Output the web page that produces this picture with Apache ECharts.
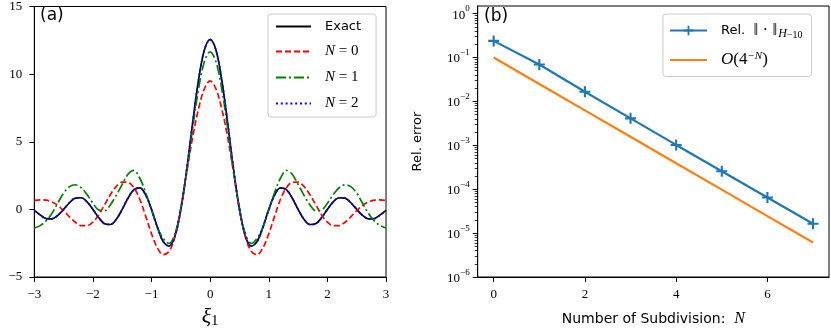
<!DOCTYPE html>
<html><head><meta charset="utf-8">
<script src="https://cdn.jsdelivr.net/npm/echarts@6/dist/echarts.min.js"></script>
<style>html,body{margin:0;padding:0;background:#fff}#c{width:831px;height:335px}</style>
</head><body><div id="c"></div>
<script>
// ---------- data: panel (a) ----------
const xi = [-3.0,-2.9,-2.8,-2.7,-2.6,-2.5,-2.4,-2.3,-2.2,-2.1,-2.0,-1.9,-1.8,-1.7,-1.6,-1.5,-1.4,-1.3,-1.2,-1.1,-1.0,-0.9,-0.8,-0.7,-0.6,-0.5,-0.4,-0.3,-0.2,-0.1,
  0.0,0.1,0.2,0.3,0.4,0.5,0.6,0.7,0.8,0.9,1.0,1.1,1.2,1.3,1.4,1.5,1.6,1.7,1.8,1.9,2.0,2.1,2.2,2.3,2.4,2.5,2.6,2.7,2.8,2.9,3.0];
const exact = [-0.08,-0.41,-0.68,-0.70,-0.45,0.00,0.49,0.83,0.86,0.56,0.00,-0.62,-1.06,-1.12,-0.73,0.00,0.84,1.46,1.59,1.07,0.00,-1.31,-2.38,-2.72,-1.96,0.00,2.94,6.34,9.51,11.76,
  12.57,11.76,9.51,6.34,2.94,0.00,-1.96,-2.72,-2.38,-1.31,0.00,1.07,1.59,1.46,0.84,0.00,-0.73,-1.12,-1.06,-0.62,0.00,0.56,0.86,0.83,0.49,0.00,-0.45,-0.70,-0.68,-0.41,-0.08];
const n0 = [0.66,0.70,0.68,0.55,0.30,-0.10,-0.55,-0.95,-1.20,-1.20,-0.95,-0.40,0.35,1.10,1.70,2.02,2.00,1.60,0.75,-0.50,-1.80,-2.85,-3.35,-3.10,-2.00,0.10,2.70,5.30,7.40,8.90,
  9.50,8.90,7.40,5.30,2.70,0.10,-2.00,-3.10,-3.35,-2.85,-1.80,-0.50,0.75,1.60,2.00,2.02,1.70,1.10,0.35,-0.40,-0.95,-1.20,-1.20,-0.95,-0.55,-0.10,0.30,0.55,0.68,0.70,0.66];
const n1 = [-1.38,-1.20,-0.85,-0.30,0.45,1.20,1.68,1.82,1.60,1.10,0.45,-0.05,-0.10,0.35,1.05,1.85,2.60,2.88,2.30,1.25,-0.05,-1.35,-2.15,-2.52,-1.80,0.05,2.80,5.95,8.85,10.90,
  11.65,10.90,8.85,5.95,2.80,0.05,-1.80,-2.52,-2.15,-1.35,-0.05,1.25,2.30,2.88,2.60,1.85,1.05,0.35,-0.10,-0.05,0.45,1.10,1.60,1.82,1.68,1.20,0.45,-0.30,-0.85,-1.20,-1.38];
const n2 = [-0.10,-0.42,-0.69,-0.70,-0.44,0.01,0.50,0.84,0.86,0.55,-0.01,-0.63,-1.07,-1.12,-0.72,0.01,0.85,1.46,1.58,1.06,-0.01,-1.32,-2.39,-2.71,-1.95,0.01,2.95,6.35,9.52,11.75,
  12.55,11.75,9.52,6.35,2.95,0.01,-1.95,-2.71,-2.39,-1.32,-0.01,1.06,1.58,1.46,0.85,0.01,-0.72,-1.12,-1.07,-0.63,-0.01,0.55,0.86,0.84,0.50,0.01,-0.44,-0.70,-0.69,-0.42,-0.10];
const leftXTicks = [-3,-2,-1,0,1,2,3];
const leftYTicks = [-5,0,5,10,15];

// ---------- data: panel (b) ----------
const subdiv = [0,1,2,3,4,5,6,7];
const relErr = [0.239,0.0693,0.0166,0.00411,0.00102,0.000257,0.0000646,0.0000163];
const rate = [0.1,0.025,0.00625,0.0015625,0.000390625,0.00009765625,0.0000244140625,0.000006103515625];
const rightXTicks = [0,2,4,6];
const rightYExp = [-6,-5,-4,-3,-2,-1,0];

// ---------- helpers ----------
const SERIF = '"Liberation Serif", "DejaVu Serif", serif';
const SANS = '"DejaVu Sans", sans-serif';
const minus = v => String(v).replace('-', '\u2212');
const pair = (xs, ys) => xs.map((x, i) => [x, ys[i]]);
const majorY = rightYExp.map(e => Math.pow(10, e));
const minorY = [];
rightYExp.forEach(e => { for (let m = 2; m <= 9; m++) { const v = m * Math.pow(10, e); if (v < 1.49) minorY.push(v); } });
const plus = 'path://M4.05,0H5.95V4.05H10V5.95H5.95V10H4.05V5.95H0V4.05H4.05Z';
const gridB = { left: 477.7, right: 2 };

const axisCommon = {
  axisLine: { show: true, onZero: false, lineStyle: { color: '#000', width: 1 } },
  axisTick: { show: true, length: 5, lineStyle: { color: '#000', width: 1 } },
  splitLine: { show: false }
};
const hidden = { opacity: 0 };

const chart = echarts.init(document.getElementById('c'), null, { renderer: 'canvas' });
chart.setOption({
  animation: false,
  backgroundColor: '#fff',
  title: [
    { text: '(a)', left: 40, top: 7, padding: 0, textStyle: { fontFamily: SANS, fontSize: 17, fontWeight: 'normal', color: '#000' } },
    { text: '(b)', left: 484, top: 8, padding: 0, textStyle: { fontFamily: SANS, fontSize: 17, fontWeight: 'normal', color: '#000' } }
  ],
  grid: [
    { left: 34.3, right: 445, top: 6, bottom: 58, show: true, borderColor: '#000', borderWidth: 1, backgroundColor: 'transparent' },
    { left: gridB.left, right: gridB.right, top: 6, bottom: 58, show: true, borderColor: '#000', borderWidth: 1, backgroundColor: 'transparent' }
  ],
  xAxis: [
    Object.assign({}, axisCommon, {
      type: 'value', gridIndex: 0, min: -3, max: 3, interval: 1,
      axisLabel: { customValues: leftXTicks, margin: 11, fontFamily: SERIF, fontSize: 13, color: '#000', formatter: minus },
      axisTick: Object.assign({}, axisCommon.axisTick, { customValues: leftXTicks }),
      name: '{a|ξ}{b|1}', nameLocation: 'middle', nameGap: 21,
      nameTextStyle: { rich: { a: { fontFamily: SERIF, fontStyle: 'italic', fontSize: 22, color: '#000' }, b: { fontFamily: SERIF, fontSize: 15, color: '#000', padding: [8, 0, 0, 0] } } }
    }),
    Object.assign({}, axisCommon, {
      type: 'value', gridIndex: 1, min: -0.35, max: 7.35,
      axisLabel: { customValues: rightXTicks, margin: 11, fontFamily: SERIF, fontSize: 13, color: '#000' },
      axisTick: Object.assign({}, axisCommon.axisTick, { customValues: rightXTicks }),
      name: '{t|Number of Subdivision:  }{i|N}', nameLocation: 'middle', nameGap: 34,
      nameTextStyle: { rich: { t: { fontFamily: SANS, fontSize: 14, color: '#000' }, i: { fontFamily: SERIF, fontStyle: 'italic', fontSize: 16, color: '#000' } } }
    })
  ],
  yAxis: [
    Object.assign({}, axisCommon, {
      type: 'value', gridIndex: 0, min: -5, max: 15, interval: 5,
      axisLabel: { customValues: leftYTicks, margin: 12, fontFamily: SERIF, fontSize: 13, color: '#000', formatter: minus },
      axisTick: Object.assign({}, axisCommon.axisTick, { customValues: leftYTicks })
    }),
    Object.assign({}, axisCommon, {
      type: 'log', gridIndex: 1, min: 1e-6, max: 1.49, logBase: 10, position: 'left',
      axisLabel: {
        customValues: majorY, margin: 8, color: '#000',
        formatter: v => { const e = Math.round(Math.log10(v)); return '{b|10}{s|' + (e < 0 ? '\u2212' + (-e) : e) + '}'; },
        rich: { b: { fontFamily: SERIF, fontSize: 13, color: '#000', lineHeight: 18, padding: [3, 0, 0, 0] }, s: { fontFamily: SERIF, fontSize: 9, color: '#000', verticalAlign: 'top', lineHeight: 10 } }
      },
      axisTick: Object.assign({}, axisCommon.axisTick, { customValues: majorY }),
      name: 'Rel. error', nameLocation: 'middle', nameGap: 54,
      nameTextStyle: { fontFamily: SANS, fontSize: 13, color: '#000' }
    }),
    {
      // minor ticks: second y axis of grid (b), moved onto the left spine, ticks pointing outward (left)
      type: 'log', gridIndex: 1, min: 1e-6, max: 1.49, logBase: 10, position: 'right',
      offset: -(831 - gridB.left - gridB.right),
      axisLine: { show: false, onZero: false }, splitLine: { show: false },
      axisLabel: { show: true, inside: true, customValues: minorY, formatter: () => ' ', color: 'rgba(0,0,0,0)', fontSize: 2 },
      axisTick: { show: true, inside: true, length: 3, customValues: minorY, lineStyle: { color: '#000', width: 0.8 } }
    }
  ],
  legend: [
    {
      data: [{ name: 'Exact', itemStyle: hidden }, { name: 'N0', itemStyle: hidden }, { name: 'N1', itemStyle: hidden }, { name: 'N2', itemStyle: hidden }],
      orient: 'vertical', left: 268, top: 14,
      itemWidth: 35, itemHeight: 12, itemGap: 11, padding: [6, 15, 6, 7],
      backgroundColor: 'rgba(255,255,255,0.8)', borderColor: '#cccccc', borderWidth: 1, borderRadius: 3,
      selectedMode: false,
      formatter: n => n === 'Exact' ? '{t|Exact}' : '{i|N}{r| = ' + n.slice(1) + '}',
      textStyle: { padding: [0, 0, 0, 9], rich: {
        t: { fontFamily: SANS, fontSize: 13, color: '#000' },
        i: { fontFamily: SERIF, fontStyle: 'italic', fontSize: 15, color: '#000' },
        r: { fontFamily: SERIF, fontSize: 15, color: '#000' } } }
    },
    {
      data: ['Rel', { name: 'Rate', itemStyle: hidden }], orient: 'vertical', left: 663, top: 14,
      itemWidth: 37, itemHeight: 12, itemGap: 10, padding: [8, 9, 8, 6],
      backgroundColor: 'rgba(255,255,255,0.8)', borderColor: '#cccccc', borderWidth: 1, borderRadius: 3,
      selectedMode: false,
      formatter: n => n === 'Rel' ? '{t|Rel.  }{r|‖ · ‖}{h|H}{s|\u221210}' : '{o|O}{r|(4}{p|\u2212N}{r|)}',
      textStyle: { padding: [0, 0, 0, 9], rich: {
        t: { fontFamily: SANS, fontSize: 13, color: '#000' },
        r: { fontFamily: SERIF, fontSize: 17, color: '#000' },
        o: { fontFamily: SERIF, fontStyle: 'italic', fontSize: 17, color: '#000' },
        h: { fontFamily: SERIF, fontStyle: 'italic', fontSize: 12, color: '#000', padding: [7, 0, 0, 1] },
        s: { fontFamily: SERIF, fontSize: 10, color: '#000', padding: [10, 0, 0, 0] },
        p: { fontFamily: SERIF, fontStyle: 'italic', fontSize: 11, color: '#000', padding: [0, 0, 8, 0] } } }
    }
  ],
  series: [
    { name: 'Exact', type: 'line', xAxisIndex: 0, yAxisIndex: 0, data: pair(xi, exact), smooth: 0.35, showSymbol: false, symbol: 'none',
      lineStyle: { color: '#000000', width: 1.7 }, itemStyle: { color: '#000000' } },
    { name: 'N0', type: 'line', xAxisIndex: 0, yAxisIndex: 0, data: pair(xi, n0), smooth: 0.35, showSymbol: false, symbol: 'none',
      lineStyle: { color: '#ff0000', width: 1.7, type: [6, 3] }, itemStyle: { color: '#ff0000' } },
    { name: 'N1', type: 'line', xAxisIndex: 0, yAxisIndex: 0, data: pair(xi, n1), smooth: 0.35, showSymbol: false, symbol: 'none',
      lineStyle: { color: '#008000', width: 1.7, type: [10, 3, 2, 3] }, itemStyle: { color: '#008000' } },
    { name: 'N2', type: 'line', xAxisIndex: 0, yAxisIndex: 0, data: pair(xi, n2), smooth: 0.35, showSymbol: false, symbol: 'none',
      lineStyle: { color: '#0000ff', width: 1.7, type: [2, 2.8] }, itemStyle: { color: '#0000ff' } },
    { name: 'Rel', type: 'line', xAxisIndex: 1, yAxisIndex: 1, data: pair(subdiv, relErr), symbol: plus, symbolSize: 11, showSymbol: true,
      lineStyle: { color: '#1f77b4', width: 2.2 }, itemStyle: { color: '#1f77b4' }, z: 3 },
    { name: 'Rate', type: 'line', xAxisIndex: 1, yAxisIndex: 1, data: pair(subdiv, rate), symbol: 'none', showSymbol: false,
      lineStyle: { color: '#ff7f0e', width: 2.2 }, itemStyle: { color: '#ff7f0e' }, z: 2 }
  ]
});
</script></body></html>
